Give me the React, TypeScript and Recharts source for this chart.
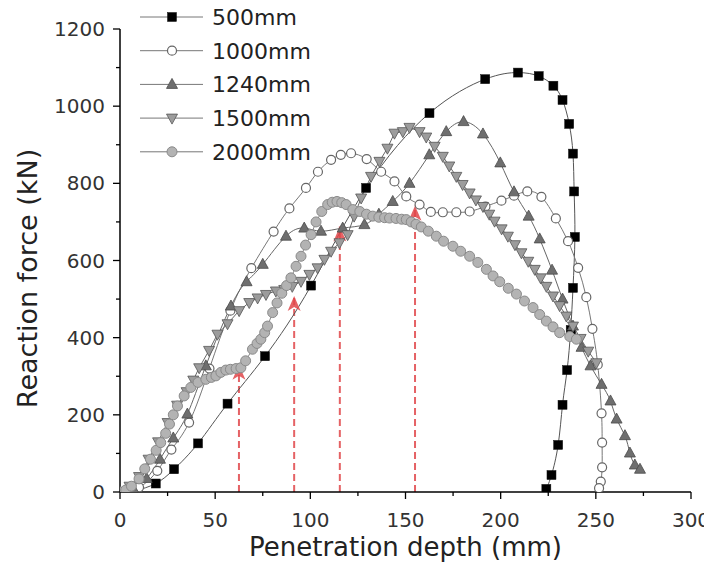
import React from 'react';
import { LineChart, Line, XAxis, YAxis, Legend, Label } from 'recharts';

type Pt = [number, number];

const xTicks = [0, 25, 50, 75, 100, 125, 150, 175, 200, 225, 250, 275, 300];
const xTickLabels = [0, 50, 100, 150, 200, 250, 300];
const yTicks = [0, 100, 200, 300, 400, 500, 600, 700, 800, 900, 1000, 1100, 1200];
const yTickLabels = [0, 200, 400, 600, 800, 1000, 1200];

const seriesNames = ['500mm', '1000mm', '1240mm', '1500mm', '2000mm'];

const series500: Pt[] = [
  [0, 0], [8, 4], [18.8, 22], [28.4, 59], [41, 126], [56.5, 229], [76.2, 352], [100.4, 535],
  [129.3, 788], [162.6, 982], [191.9, 1070], [209.1, 1087], [220, 1078], [227.7, 1053],
  [232.5, 1016], [236, 954], [238, 877], [238.6, 779], [239, 661], [238, 529], [236.8, 420],
  [234.9, 316], [232.5, 226], [230.2, 122], [226.7, 44], [224, 8],
];

const series1000: Pt[] = [
  [0, 0], [10, 12], [19.6, 55], [27, 110], [36.3, 180], [47, 320], [58, 470], [69, 580],
  [80.7, 675], [89, 735], [97.7, 788], [104, 830], [110.9, 861], [116, 874], [121.4, 878],
  [129.6, 863], [137.2, 830], [144.2, 805], [150.4, 766], [157.4, 745], [163.3, 726],
  [169.6, 725], [176.7, 725], [183.7, 727], [192, 740], [200.4, 755], [207, 768], [214, 779],
  [221.4, 765], [229, 709], [235.4, 650], [240.7, 581], [245, 505], [248.2, 423], [251, 330],
  [253, 204], [253.3, 128], [253.3, 64], [252.6, 27], [251.7, 10],
];

const series1240: Pt[] = [
  [0, 0], [7, 8], [14, 35], [21, 85], [28, 140], [35.4, 202], [45.1, 327], [58.3, 482],
  [66.5, 545], [75, 590], [87.2, 663], [96.8, 684], [105.6, 676], [117, 684], [128.4, 693],
  [136, 720], [143.3, 753], [152.1, 800], [162.5, 874], [171.4, 934], [180.5, 960],
  [190.7, 928], [199.8, 853], [207, 778], [214.7, 715], [220.5, 656], [227, 575], [232.5, 500],
  [238, 430], [242.5, 375], [247.2, 327], [253, 279], [257.7, 236], [260.9, 189], [265.3, 146],
  [267.9, 101], [270.5, 70], [273.2, 59],
];

const series1500: Pt[] = [
  [0, 0], [5, 15], [10, 40], [15, 85], [20, 130], [25, 180], [30, 225], [35, 260], [38.5, 290],
  [41.6, 322], [46.8, 367], [51.2, 409], [56.5, 436], [62.6, 470], [67.9, 491], [72.3, 503],
  [76.7, 512], [81.9, 521], [86.3, 525], [90.5, 533], [95.1, 546], [99.5, 564], [103.8, 581],
  [107.4, 603], [110.9, 624], [115.3, 646], [119.6, 667], [123, 715], [126.7, 762],
  [131.9, 818], [136.3, 857], [140.5, 891], [144.2, 930], [148.6, 934], [152.1, 945],
  [157.4, 934], [160.9, 920], [165.3, 896], [169.6, 870], [173, 845], [176.7, 818], [180, 797],
  [183.7, 775], [187, 757], [190.7, 740], [194, 720], [196.8, 702], [200.5, 682], [203.8, 663],
  [207.5, 641], [210.9, 620], [214.5, 598], [217.9, 577], [221, 555], [224, 533], [227.5, 508],
  [231, 483], [234.5, 456], [238, 430], [242, 398], [246, 365], [250.3, 335],
];

const series2000: Pt[] = [
  [0, 0], [3, 5], [6, 15], [10, 34], [13, 60], [16, 85], [19, 108], [21.4, 128], [24, 152],
  [26, 176], [28, 200], [30.2, 223], [33.7, 249], [37.2, 271], [41, 284], [45.1, 292],
  [48, 297], [50.4, 301], [53, 310], [55.6, 316], [58, 318], [61, 320], [63.5, 322], [66, 340],
  [69.6, 370], [72, 385], [74, 396], [76, 413], [77.5, 430], [80.2, 465], [82.5, 490],
  [85, 515], [87.5, 535], [89.8, 555], [92.5, 585], [95.1, 611], [97.5, 640], [100.4, 667],
  [103, 700], [106, 727], [109.1, 745], [111.5, 751], [114, 753], [116.5, 750], [118.8, 745],
  [122.3, 732], [126, 727], [129.5, 720], [132.8, 715], [136, 712], [139, 711], [141.6, 710],
  [145, 709], [148, 707], [150.4, 706], [153, 700], [155.5, 694], [158.3, 687], [162, 676],
  [166.2, 663], [170, 650], [174.9, 637], [179, 624], [183.7, 611], [188, 595], [192.5, 577],
  [196, 560], [199.5, 545], [204, 528], [208.3, 513], [212.5, 495], [217, 478], [220.5, 460],
  [224, 443], [227.5, 428], [231, 413], [236.3, 403], [239.8, 396],
];

const arrowX = [62.5, 91.5, 115.5, 155];
const arrowTop = [330, 508, 688, 742];

const toRows = (pts: Pt[]) => pts.map(([x, y]) => ({ x, y }));

const FONT = 'DejaVu Sans, Arial, sans-serif';

const Square = ({ cx, cy }: any) => (
  <rect x={cx - 4.5} y={cy - 4.5} width={9} height={9} fill="#000" stroke="#111" strokeWidth={0.5} />
);
const OpenCircle = ({ cx, cy }: any) => (
  <circle cx={cx} cy={cy} r={4.5} fill="#fff" stroke="#666" strokeWidth={1.2} />
);
const TriUp = ({ cx, cy }: any) => (
  <path d={`M${cx},${cy - 6} L${cx + 5.5},${cy + 4} L${cx - 5.5},${cy + 4} Z`} fill="#6e6e6e" stroke="#4a4a4a" strokeWidth={0.8} />
);
const TriDown = ({ cx, cy }: any) => (
  <path d={`M${cx},${cy + 6} L${cx + 5.5},${cy - 4} L${cx - 5.5},${cy - 4} Z`} fill="#9c9c9c" stroke="#555" strokeWidth={0.8} />
);
const GrayCircle = ({ cx, cy }: any) => (
  <circle cx={cx} cy={cy} r={5} fill="#b3b3b3" stroke="#8a8a8a" strokeWidth={1} />
);

const markers = [Square, OpenCircle, TriUp, TriDown, GrayCircle];
const seriesData = [series500, series1000, series1240, series1500, series2000];
const lineColors = ['#555', '#777', '#666', '#666', '#888'];
const curveTypes: any[] = ['natural', 'natural', 'natural', 'linear', 'linear'];

const makeDot = (M: any) => (p: any) => {
  if (p.cx == null || p.cy == null) return <g key={`d-${p.index}`} />;
  return <M key={`d-${p.index}`} cx={p.cx} cy={p.cy} />;
};

const arrowDot = (p: any) => {
  if (p.index !== 1 || p.cx == null) return <g key={`a-${p.index}`} />;
  const { cx, cy } = p;
  return (
    <path
      key={`a-${p.index}`}
      d={`M${cx},${cy} L${cx + 6.5},${cy + 15} L${cx},${cy + 11} L${cx - 6.5},${cy + 15} Z`}
      fill="#e0464a"
      fillOpacity={0.85}
    />
  );
};

const XTick = (props: any) => {
  const { x, y, payload } = props;
  const v = payload.value;
  const major = xTickLabels.includes(v);
  return (
    <g>
      <line x1={x} x2={x} y1={y} y2={y + (major ? 7 : 4)} stroke="#000" strokeWidth={1.3} />
      {major && (
        <text x={x} y={y + 35} textAnchor="middle" fontSize={20} fontFamily={FONT} fill="#333">
          {v}
        </text>
      )}
    </g>
  );
};

const YTick = (props: any) => {
  const { x, y, payload } = props;
  const v = payload.value;
  const major = yTickLabels.includes(v);
  return (
    <g>
      <line x1={x - (major ? 7 : 4)} x2={x} y1={y} y2={y} stroke="#000" strokeWidth={1.3} />
      {major && (
        <text x={x - 15} y={y + 7} textAnchor="end" fontSize={20} fontFamily={FONT} fill="#333">
          {v}
        </text>
      )}
    </g>
  );
};

const renderLegend = () => (
  <svg width={220} height={180} style={{ display: 'block', overflow: 'visible' }}>
    {seriesNames.map((name, i) => {
      const cy = 17 + i * 33.7;
      const M = markers[i];
      return (
        <g key={name}>
          <line x1={0} x2={63} y1={cy} y2={cy} stroke="#777" strokeWidth={1} />
          <M cx={32} cy={cy} />
          <text x={72} y={cy + 8} fontSize={22} fontFamily={FONT} fill="#222">
            {name}
          </text>
        </g>
      );
    })}
  </svg>
);

export default function App() {
  return (
    <div style={{ width: 704, height: 572, background: '#fff' }}>
      <LineChart width={704} height={572} margin={{ top: 21, right: 21, left: 0, bottom: 0 }}>
        <XAxis
          dataKey="x"
          type="number"
          domain={[0, 300]}
          ticks={xTicks}
          interval={0}
          tickLine={false}
          tickSize={0}
          tickMargin={0}
          tick={<XTick />}
          axisLine={{ stroke: '#000', strokeWidth: 1.5 }}
          height={88}
          allowDataOverflow
        >
          <Label
            content={(p: any) => {
              const vb = p.viewBox || { x: 112, y: 484, width: 571 };
              return (
                <text x={vb.x + vb.width / 2} y={vb.y + 64} textAnchor="middle" fontSize={26} fontFamily={FONT} fill="#222">
                  Penetration depth (mm)
                </text>
              );
            }}
          />
        </XAxis>
        <YAxis
          type="number"
          domain={[0, 1200]}
          ticks={yTicks}
          interval={0}
          tickLine={false}
          tickSize={0}
          tickMargin={0}
          tick={<YTick />}
          axisLine={{ stroke: '#000', strokeWidth: 1.5 }}
          width={112}
          allowDataOverflow
        >
          <Label
            content={(p: any) => {
              const vb = p.viewBox || { x: 0, y: 21, width: 112, height: 463 };
              const cx = 29;
              const cy = vb.y + vb.height / 2 + 18;
              return (
                <text x={cx} y={cy} transform={`rotate(-90, ${cx}, ${cy})`} textAnchor="middle" fontSize={27} fontFamily={FONT} fill="#222">
                  Reaction force (kN)
                </text>
              );
            }}
          />
        </YAxis>
        <Legend
          content={renderLegend}
          layout="vertical"
          align="center"
          verticalAlign="middle"
          wrapperStyle={{ left: 132, top: -8, width: 220, height: 180 }}
        />
        {arrowX.map((ax, i) => (
          <Line
            key={`arrow-${i}`}
            data={[{ x: ax, y: 0 }, { x: ax, y: arrowTop[i] }]}
            dataKey="y"
            type="linear"
            stroke="#e0464a"
            strokeOpacity={0.85}
            strokeWidth={2}
            strokeDasharray="7 4"
            dot={arrowDot}
            activeDot={false}
            legendType="none"
            isAnimationActive={false}
          />
        ))}
        {seriesData.map((pts, i) => (
          <Line
            key={seriesNames[i]}
            name={seriesNames[i]}
            data={toRows(pts)}
            dataKey="y"
            type={curveTypes[i]}
            stroke={lineColors[i]}
            strokeWidth={1}
            dot={makeDot(markers[i])}
            activeDot={false}
            isAnimationActive={false}
          />
        ))}
      </LineChart>
    </div>
  );
}
